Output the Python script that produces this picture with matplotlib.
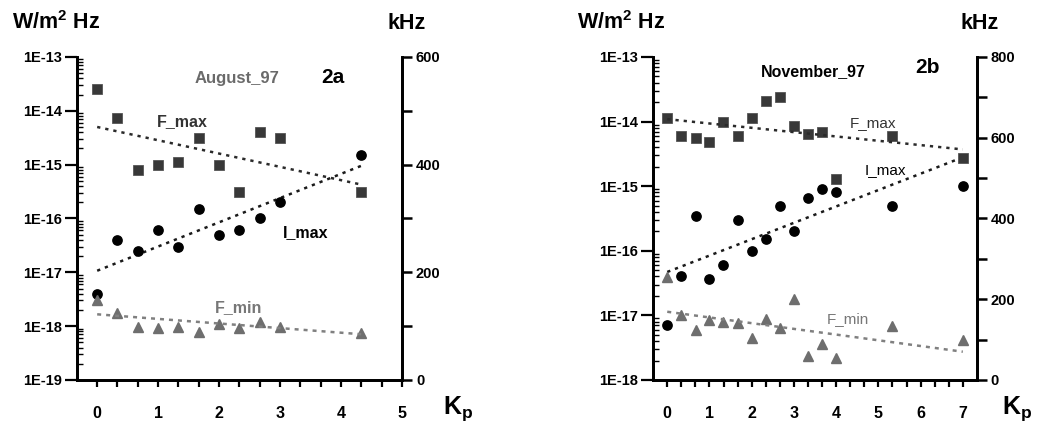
import numpy as np
import matplotlib
matplotlib.use('Agg')
import matplotlib.pyplot as plt
from matplotlib.ticker import FixedLocator, FuncFormatter, NullFormatter, MultipleLocator

plt.rcParams['font.family'] = ['Liberation Sans', 'DejaVu Sans']
plt.rcParams['font.weight'] = 'bold'
plt.rcParams['mathtext.fontset'] = 'custom'
plt.rcParams['mathtext.rm'] = 'Liberation Sans:bold'
plt.rcParams['mathtext.bf'] = 'Liberation Sans:bold'

# ---- August 97 (panel 2a) ----
aug_kp = [0, 0.33, 0.67, 1, 1.33, 1.67, 2, 2.33, 2.67, 3, 4.33]
aug_fmax = [540, 486, 390, 400, 405, 450, 400, 350, 460, 450, 350]          # kHz
aug_imax = [4e-18, 4e-17, 2.5e-17, 6e-17, 3e-17, 1.5e-16, 5e-17, 6e-17,
            1e-16, 2e-16, 1.5e-15]                                           # W/m2 Hz
aug_fmin = [148, 124, 99, 97, 99, 89, 104, 96, 108, 99, 88]                 # kHz
aug_trend_kp = [0, 4.33]
aug_fmax_trend = [470, 363]
aug_imax_trend = [1.07e-17, 9.5e-16]
aug_fmin_trend = [122, 85]

# ---- November 97 (panel 2b) ----
nov_kp = [0, 0.33, 0.67, 1, 1.33, 1.67, 2, 2.33, 2.67, 3, 3.33, 3.67, 4, 5.33, 7]
nov_fmax = [650, 604, 600, 590, 640, 604, 650, 690, 700, 630, 609, 615, 499, 604, 550]
nov_imax = [7e-18, 4e-17, 3.5e-16, 3.6e-17, 6e-17, 3e-16, 1e-16, 1.5e-16,
            5e-16, 2e-16, 6.5e-16, 9e-16, 8e-16, 5e-16, 1e-15]
nov_fmin = [254, 161, 124, 148, 144, 140, 105, 150, 128, 200, 59, 88, 54, 134, 99]
nov_trend_kp = [0, 7]
nov_fmax_trend = [646, 571]
nov_imax_trend = [4.7e-17, 2.8e-15]
nov_fmin_trend = [169, 70]

SQ_COLOR = '#383838'
TRI_COLOR = '#6e6e6e'
DOT = (0, (1.3, 2.0))


def log_label(v, pos):
    return '1E%d' % int(round(np.log10(v)))


def panel(fig, rect, kp, fmax, imax, fmin, tkp, tfmax, timax, tfmin,
          xmax, dec, kmax, texts):
    ax = fig.add_axes(rect)
    ax2 = ax.twinx()

    ax.set_yscale('log')
    ax.set_ylim(10.0 ** dec[0], 10.0 ** dec[1])
    ax.set_xlim(-0.33, xmax)
    ax2.set_ylim(0, kmax)

    # I_max on the intensity axis
    ax.plot(kp, imax, 'o', color='black', ms=6.7, zorder=3)
    ax.plot(tkp, timax, color='#1a1a1a', lw=1.8, ls=DOT)

    # F_max / F_min on the kHz axis
    ax2.plot(kp, fmax, 's', color=SQ_COLOR, mec='#555555', mew=0.6, ms=6.5)
    ax2.plot(tkp, tfmax, color='#2a2a2a', lw=1.8, ls=DOT)
    ax2.plot(kp, fmin, '^', color=TRI_COLOR, ms=6.5)
    ax2.plot(tkp, tfmin, color='#808080', lw=1.8, ls=(0, (1.6, 2.0)))

    for a in (ax, ax2):
        for s in a.spines.values():
            s.set_linewidth(2.0)
        a.spines['top'].set_visible(False)

    ax.xaxis.set_major_locator(MultipleLocator(1))
    ax.xaxis.set_minor_locator(MultipleLocator(1 / 3))
    ax.tick_params(axis='x', which='both', direction='out', length=5, width=1.6,
                   labelsize=11.5, pad=14)

    decades = np.arange(dec[0], dec[1] + 1)
    minors = [m * 10.0 ** d for d in decades[:-1] for m in range(2, 10)]
    ax.yaxis.set_major_locator(FixedLocator(10.0 ** decades))
    ax.yaxis.set_minor_locator(FixedLocator(minors))
    ax.yaxis.set_major_formatter(FuncFormatter(log_label))
    ax.yaxis.set_minor_formatter(NullFormatter())
    ax.tick_params(axis='y', which='major', direction='out', length=9, width=1.6,
                   labelsize=10.5, pad=2)
    ax.tick_params(axis='y', which='minor', direction='in', length=4, width=1.0)

    ax2.yaxis.set_major_locator(MultipleLocator(200))
    ax2.yaxis.set_minor_locator(MultipleLocator(100))
    ax2.tick_params(axis='y', which='major', direction='out', length=7, width=1.8,
                    labelsize=10.5, pad=3)
    ax2.tick_params(axis='y', which='minor', direction='out', length=7, width=1.8)

    for t in texts:
        ax.text(t[0], t[1], t[2], transform=ax.transAxes, ha='center', va='center',
                fontsize=t[3], color=t[4], fontweight=t[5])
    return ax, ax2


fig = plt.figure(figsize=(10.37, 4.23), dpi=100)
fig.patch.set_facecolor('white')

panel(fig, [0.0743, 0.1017, 0.3134, 0.7636], aug_kp, aug_fmax, aug_imax, aug_fmin,
      aug_trend_kp, aug_fmax_trend, aug_imax_trend, aug_fmin_trend,
      5, (-19, -13), 600,
      [(0.492, 0.932, 'August_97', 12, '#6a6a6a', 'bold'),
       (0.788, 0.938, '2a', 15, 'black', 'bold'),
       (0.323, 0.799, 'F_max', 11.5, '#333333', 'bold'),
       (0.702, 0.455, 'I_max', 11.5, 'black', 'bold'),
       (0.498, 0.223, 'F_min', 11.5, '#777777', 'bold')])

panel(fig, [0.630, 0.1017, 0.3119, 0.7636], nov_kp, nov_fmax, nov_imax, nov_fmin,
      nov_trend_kp, nov_fmax_trend, nov_imax_trend, nov_fmin_trend,
      7.33, (-18, -13), 800,
      [(0.495, 0.954, 'November_97', 11.5, 'black', 'bold'),
       (0.849, 0.966, '2b', 15, 'black', 'bold'),
       (0.680, 0.796, 'F_max', 11, '#333333', 'normal'),
       (0.717, 0.650, 'I_max', 11, 'black', 'normal'),
       (0.603, 0.189, 'F_min', 11, '#777777', 'normal')])

for x0, xk, xK in [(0.0116, 0.374, 0.427), (0.556, 0.926, 0.966)]:
    fig.text(x0, 0.931, r'W/m$^{2}$ Hz', fontsize=15.5, fontweight='bold',
             ha='left', va='baseline')
    fig.text(xk, 0.931, 'kHz', fontsize=15.5, fontweight='bold',
             ha='left', va='baseline')
    fig.text(xK, 0.022, r'$\mathrm{K_p}$', fontsize=18, ha='left', va='baseline')

fig.savefig('out.png', dpi=100)
